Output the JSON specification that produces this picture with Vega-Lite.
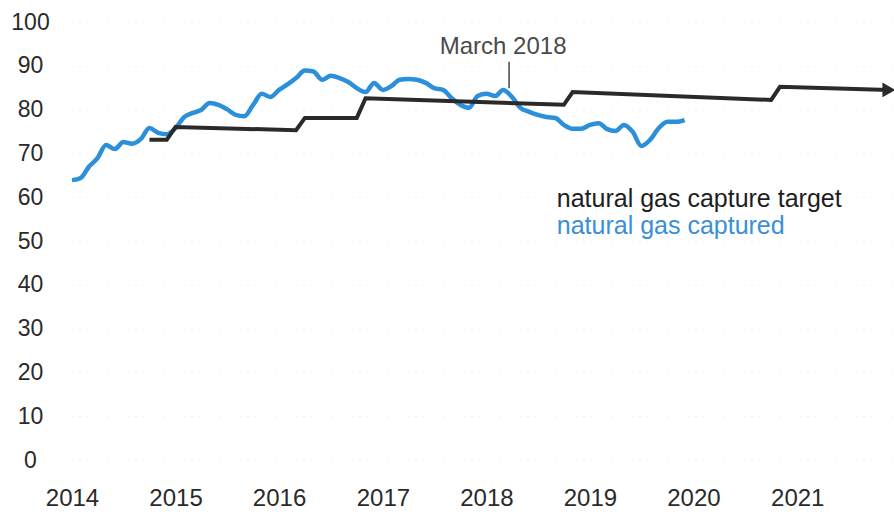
{
  "$schema": "https://vega.github.io/schema/vega-lite/v6.json",
  "autosize": "none",
  "width": 820,
  "height": 438,
  "padding": {"left": 72, "top": 22, "right": 2, "bottom": 69},
  "background": "white",
  "config": {
    "view": {"stroke": null},
    "font": "Liberation Sans",
    "text": {"font": "Liberation Sans"}
  },
  "datasets": {
    "captured": [
      {"date": "2014-01-01", "value": 63.9},
      {"date": "2014-02-01", "value": 64.4},
      {"date": "2014-03-01", "value": 66.9},
      {"date": "2014-04-01", "value": 68.9},
      {"date": "2014-05-01", "value": 71.9},
      {"date": "2014-06-01", "value": 71.0},
      {"date": "2014-07-01", "value": 72.6},
      {"date": "2014-08-01", "value": 72.2},
      {"date": "2014-09-01", "value": 73.3},
      {"date": "2014-10-01", "value": 75.8},
      {"date": "2014-11-01", "value": 74.7},
      {"date": "2014-12-01", "value": 74.4},
      {"date": "2015-01-01", "value": 75.8},
      {"date": "2015-02-01", "value": 78.3},
      {"date": "2015-03-01", "value": 79.2},
      {"date": "2015-04-01", "value": 79.9},
      {"date": "2015-05-01", "value": 81.5},
      {"date": "2015-06-01", "value": 81.1},
      {"date": "2015-07-01", "value": 80.1},
      {"date": "2015-08-01", "value": 78.8},
      {"date": "2015-09-01", "value": 78.5},
      {"date": "2015-10-01", "value": 81.0},
      {"date": "2015-11-01", "value": 83.6},
      {"date": "2015-12-01", "value": 82.9},
      {"date": "2016-01-01", "value": 84.5},
      {"date": "2016-02-01", "value": 85.8},
      {"date": "2016-03-01", "value": 87.2},
      {"date": "2016-04-01", "value": 88.9},
      {"date": "2016-05-01", "value": 88.7},
      {"date": "2016-06-01", "value": 86.8},
      {"date": "2016-07-01", "value": 87.7},
      {"date": "2016-08-01", "value": 87.2},
      {"date": "2016-09-01", "value": 86.3},
      {"date": "2016-10-01", "value": 84.9},
      {"date": "2016-11-01", "value": 84.0},
      {"date": "2016-12-01", "value": 86.1},
      {"date": "2017-01-01", "value": 84.5},
      {"date": "2017-02-01", "value": 85.4},
      {"date": "2017-03-01", "value": 86.8},
      {"date": "2017-04-01", "value": 87.0},
      {"date": "2017-05-01", "value": 86.8},
      {"date": "2017-06-01", "value": 86.1},
      {"date": "2017-07-01", "value": 84.9},
      {"date": "2017-08-01", "value": 84.5},
      {"date": "2017-09-01", "value": 82.6},
      {"date": "2017-10-01", "value": 81.1},
      {"date": "2017-11-01", "value": 80.4},
      {"date": "2017-12-01", "value": 83.1},
      {"date": "2018-01-01", "value": 83.6},
      {"date": "2018-02-01", "value": 83.1},
      {"date": "2018-03-01", "value": 84.5},
      {"date": "2018-04-01", "value": 82.9},
      {"date": "2018-05-01", "value": 80.4},
      {"date": "2018-06-01", "value": 79.5},
      {"date": "2018-07-01", "value": 78.8},
      {"date": "2018-08-01", "value": 78.3},
      {"date": "2018-09-01", "value": 78.1},
      {"date": "2018-10-01", "value": 76.5},
      {"date": "2018-11-01", "value": 75.6},
      {"date": "2018-12-01", "value": 75.6},
      {"date": "2019-01-01", "value": 76.5},
      {"date": "2019-02-01", "value": 76.9},
      {"date": "2019-03-01", "value": 75.6},
      {"date": "2019-04-01", "value": 75.1},
      {"date": "2019-05-01", "value": 76.5},
      {"date": "2019-06-01", "value": 74.9},
      {"date": "2019-07-01", "value": 71.7},
      {"date": "2019-08-01", "value": 73.1},
      {"date": "2019-09-01", "value": 75.8},
      {"date": "2019-10-01", "value": 77.2},
      {"date": "2019-11-01", "value": 77.2},
      {"date": "2019-12-01", "value": 77.6}
    ],
    "target": [
      {"date": "2014-10-01", "value": 73.1},
      {"date": "2014-12-01", "value": 73.1},
      {"date": "2015-01-01", "value": 76.0},
      {"date": "2016-03-01", "value": 75.3},
      {"date": "2016-04-01", "value": 78.1},
      {"date": "2016-10-01", "value": 78.1},
      {"date": "2016-11-01", "value": 82.6},
      {"date": "2018-10-01", "value": 81.1},
      {"date": "2018-11-01", "value": 84.0},
      {"date": "2020-10-01", "value": 82.2},
      {"date": "2020-11-01", "value": 85.2},
      {"date": "2021-11-20", "value": 84.5}
    ],
    "arrow": [
      {"date": "2021-11-20", "value": 84.5}
    ],
    "marker": [
      {"date": "2018-03-22", "low": 84.9, "high": 90.9}
    ],
    "labels": [
      {"date": "2018-03-01", "value": 94.3, "text": "March 2018", "kind": "note"}
    ],
    "legend": [
      {"date": "2018-09-06", "value": 57.8, "text": "natural gas capture target", "kind": "target"},
      {"date": "2018-09-06", "value": 51.6, "text": "natural gas captured", "kind": "captured"}
    ]
  },
  "layer": [
    {
      "data": {"name": "captured"},
      "mark": {"type": "line", "color": "#2b8fda", "strokeWidth": 4.5, "interpolate": "monotone"},
      "encoding": {
        "x": {
          "field": "date",
          "type": "temporal",
          "scale": {
            "type": "utc",
            "domain": [
              {"year": 2014, "month": 1, "date": 1, "utc": true},
              {"year": 2021, "month": 12, "date": 1, "utc": true}
            ]
          },
          "axis": {
            "title": null,
            "domain": false,
            "ticks": false,
            "tickSize": 0,
            "grid": false,
            "values": [
              {"year": 2014, "month": 1, "date": 1, "utc": true},
              {"year": 2015, "month": 1, "date": 1, "utc": true},
              {"year": 2016, "month": 1, "date": 1, "utc": true},
              {"year": 2017, "month": 1, "date": 1, "utc": true},
              {"year": 2018, "month": 1, "date": 1, "utc": true},
              {"year": 2019, "month": 1, "date": 1, "utc": true},
              {"year": 2020, "month": 1, "date": 1, "utc": true},
              {"year": 2021, "month": 1, "date": 1, "utc": true}
            ],
            "format": "%Y",
            "labelFontSize": 24,
            "labelColor": "#2a2a2a",
            "labelPadding": 26,
            "labelDx": -11,
            "labelDy": 6,
            "labelFlush": false,
            "labelOverlap": false
          }
        },
        "y": {
          "field": "value",
          "type": "quantitative",
          "scale": {"domain": [0, 100], "nice": false, "zero": true},
          "axis": {
            "title": null,
            "domain": false,
            "ticks": false,
            "tickSize": 0,
            "values": [0, 10, 20, 30, 40, 50, 60, 70, 80, 90, 100],
            "labelFontSize": 23,
            "labelColor": "#2a2a2a",
            "labelAlign": "center",
            "labelPadding": 42,
            "grid": true,
            "gridColor": "#e8e8e8",
            "gridDash": [1, 6],
            "gridWidth": 1
          }
        }
      }
    },
    {
      "data": {"name": "target"},
      "mark": {"type": "line", "color": "#2a2a2a", "strokeWidth": 4},
      "encoding": {
        "x": {"field": "date", "type": "temporal"},
        "y": {"field": "value", "type": "quantitative"}
      }
    },
    {
      "data": {"name": "arrow"},
      "mark": {"type": "point", "shape": "triangle-right", "filled": true, "color": "#2a2a2a", "size": 220, "opacity": 1},
      "encoding": {
        "x": {"field": "date", "type": "temporal"},
        "y": {"field": "value", "type": "quantitative"}
      }
    },
    {
      "data": {"name": "marker"},
      "mark": {"type": "rule", "color": "#444444", "strokeWidth": 1.5},
      "encoding": {
        "x": {"field": "date", "type": "temporal"},
        "y": {"field": "low", "type": "quantitative"},
        "y2": {"field": "high"}
      }
    },
    {
      "data": {"name": "labels"},
      "mark": {"type": "text", "align": "center", "baseline": "middle", "fontSize": 24, "color": "#4a4a4a"},
      "encoding": {
        "x": {"field": "date", "type": "temporal"},
        "y": {"field": "value", "type": "quantitative"},
        "text": {"field": "text"}
      }
    },
    {
      "data": {"name": "legend"},
      "mark": {"type": "text", "align": "left", "baseline": "alphabetic", "fontSize": 25},
      "encoding": {
        "x": {"field": "date", "type": "temporal"},
        "y": {"field": "value", "type": "quantitative"},
        "text": {"field": "text"},
        "color": {
          "field": "kind",
          "type": "nominal",
          "scale": {"domain": ["target", "captured"], "range": ["#1e1e1e", "#3a8fd8"]},
          "legend": null
        }
      }
    }
  ]
}
